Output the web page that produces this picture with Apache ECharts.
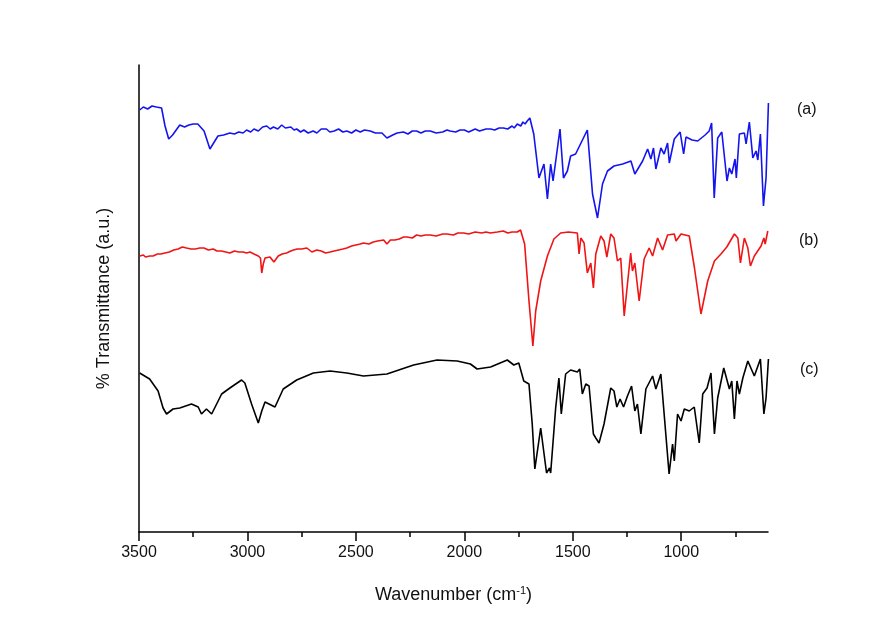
<!DOCTYPE html>
<html>
<head>
<meta charset="utf-8">
<script src="https://cdn.jsdelivr.net/npm/echarts@6/dist/echarts.min.js"></script>
<style>html,body{margin:0;padding:0;background:#fff;}#c{width:878px;height:625px;}</style>
</head>
<body>
<div id="c"></div>
<script>
// Wavenumber tick labels
const majorTicks = [3500, 3000, 2500, 2000, 1500, 1000];
const minorTicks = [3250, 2750, 2250, 1750, 1250, 750];
const curveLabels = ['(a)', '(b)', '(c)'];

// (a) blue spectrum: wavenumber (cm-1) and transmittance (a.u.)
const aWn = [3497,3480,3460,3440,3420,3396,3380,3363,3345,3312,3290,3270,3250,3229,3200,3173,3136,3110,3081,3060,3040,3020,3004,2985,2970,2950,2930,2911,2895,2880,2860,2842,2825,2800,2785,2773,2755,2740,2720,2697,2680,2660,2636,2620,2600,2580,2560,2542,2520,2500,2480,2460,2434,2410,2380,2357,2330,2310,2281,2260,2240,2220,2200,2180,2157,2130,2100,2080,2066,2040,2020,2000,1980,1950,1930,1900,1879,1860,1840,1820,1800,1780,1770,1756,1740,1730,1720,1710,1698,
  1680,1656,1633,1617,1602,1591,1559,1543,1525,1510,1487,1460,1433,1409,1386,1363,1340,1310,1270,1232,1214,1178,1155,1140,1128,1117,1094,1079,1063,1055,1032,1005,989,978,950,924,890,871,860,848,832,813,789,778,767,752,746,732,709,701,686,670,655,647,635,621,609,598];
const aT = [422,425,423,426,425,424,406,393,397,407,405,407,408,408,401,383,396,397,399,398,400,399,402,400,403,401,405,406,403,405,403,407,404,405,402,403,400,402,399,401,399,403,403,400,401,403,400,401,399,402,400,402,401,399,399,394,397,399,400,398,401,401,399,401,401,399,400,402,401,400,402,402,400,403,401,403,403,402,404,404,403,406,404,408,406,410,408,411,414,
  398,354,368,333,368,351,403,354,361,376,378,390,402,338,314,348,361,366,368,371,358,371,383,373,384,363,384,378,389,369,393,400,378,395,392,391,397,401,409,334,394,400,351,364,358,373,354,398,399,388,410,374,381,372,398,326,354,429];

// (b) red spectrum
const bWn = [3496,3480,3470,3450,3435,3415,3400,3380,3360,3340,3320,3300,3281,3260,3240,3220,3200,3180,3158,3140,3120,3100,3081,3060,3040,3020,3004,2988,2970,2950,2940,2934,2927,2919,2896,2878,2858,2840,2820,2800,2788,2770,2750,2726,2703,2680,2660,2640,2619,2600,2580,2560,2542,2520,2500,2480,2465,2440,2420,2400,2372,2357,2341,2320,2300,2280,2264,2240,2220,2200,2180,2157,2130,2100,2080,2050,2030,2003,1980,1950,1920,1900,1880,1848,1820,1800,1780,1756,1741,1732,1722,
  1702,1684,1671,1648,1617,1587,1556,1520,1479,1471,1463,1448,1433,1417,1405,1394,1371,1356,1343,1325,1310,1294,1279,1263,1248,1233,1225,1214,1194,1171,1148,1132,1109,1086,1063,1032,1024,1001,963,939,909,878,847,817,790,755,739,727,709,693,681,663,632,619,613,601];
const bT = [276,277,275,276,276,278,278,279,280,282,283,285,284,283,283,284,284,282,283,281,281,280,279,281,280,280,279,280,278,276,274,259,268,274,275,270,276,278,279,281,282,283,283,284,280,282,281,279,280,281,282,283,284,286,287,288,289,288,290,291,292,288,292,292,293,295,295,294,297,296,297,297,296,298,298,297,299,299,298,300,299,300,299,300,301,299,300,300,302,300,288,
  231,186,221,251,276,293,299,300,299,278,294,289,259,269,244,278,296,291,275,298,294,271,274,216,248,279,261,269,231,273,284,276,294,282,297,298,291,298,296,264,218,251,271,278,285,298,294,269,294,284,266,276,286,294,288,301];

// (c) black spectrum
const cWn = [3497,3451,3412,3389,3373,3343,3312,3258,3227,3212,3189,3165,3119,3081,3027,3012,2981,2950,2934,2919,2873,2835,2773,2696,2619,2542,2465,2357,2234,2126,2033,1972,1941,1879,1802,1772,1749,1726,1702,1687,1675,1648,1621,1607,1602,1579,1564,1553,1533,1510,1479,1468,1456,1440,1425,1405,1394,1379,1356,1325,1310,1297,1282,1266,1248,1229,1214,1202,1186,1163,1132,1117,1094,1056,1040,1032,1017,1001,986,963,940,917,901,881,863,847,832,804,778,767,755,743,732,716,693,663,635,619,609,598];
const cT = [159,153,141,124,118,123,124,128,125,118,123,118,138,144,152,149,128,109,121,130,125,143,152,159,161,159,156,158,167,172,171,168,163,165,172,167,169,151,148,108,63,104,59,64,59,124,154,118,158,162,160,163,138,148,146,98,94,89,108,144,141,125,133,125,136,146,121,128,98,143,156,143,158,58,88,71,118,111,123,121,125,89,138,144,159,98,134,164,143,151,113,151,138,154,171,156,173,118,134,173];

const zip = (x, y) => x.map((v, i) => [v, y[i]]);
const FONT = 'Liberation Sans, Arial, sans-serif';

const chart = echarts.init(document.getElementById('c'), null, {renderer: 'canvas'});
const baseX = {
  type: 'value', inverse: true, min: 600, max: 3500,
  splitLine: {show: false}
};
chart.setOption({
  animation: false,
  backgroundColor: '#fff',
  grid: {left: 139, right: 110, top: 65, bottom: 93},
  xAxis: [
    Object.assign({}, baseX, {
      position: 'bottom',
      name: 'Wavenumber (cm{sup|-1})',
      nameLocation: 'middle',
      nameGap: 53,
      nameTextStyle: {fontFamily: FONT, fontSize: 18, color: '#111',
        rich: {sup: {fontFamily: FONT, fontSize: 11, color: '#111', verticalAlign: 'top', padding: [0, 0, 10, 0]}}},
      axisLine: {show: true, lineStyle: {color: '#000', width: 1.5}},
      axisTick: {show: true, inside: false, length: 9, lineStyle: {color: '#000', width: 1.5}, customValues: majorTicks},
      axisLabel: {show: true, margin: 13, fontFamily: FONT, fontSize: 16, color: '#111', customValues: majorTicks,
        formatter: v => String(v)}
    }),
    Object.assign({}, baseX, {
      position: 'bottom',
      axisLine: {show: false},
      axisTick: {show: true, inside: false, length: 5, lineStyle: {color: '#000', width: 1.5}, customValues: minorTicks},
      axisLabel: {show: false}
    })
  ],
  yAxis: {
    type: 'value', min: 0, max: 467,
    name: '% Transmittance (a.u.)',
    nameLocation: 'middle', nameGap: 26, nameRotate: 90,
    nameTextStyle: {fontFamily: FONT, fontSize: 18, color: '#111'},
    axisLine: {show: true, lineStyle: {color: '#000', width: 1.5}},
    axisTick: {show: false}, axisLabel: {show: false}, splitLine: {show: false}
  },
  graphic: [
    {type: 'text', left: 797, top: 102, style: {text: curveLabels[0], font: '16px ' + FONT, fill: '#111'}},
    {type: 'text', left: 799, top: 233, style: {text: curveLabels[1], font: '16px ' + FONT, fill: '#111'}},
    {type: 'text', left: 800, top: 362, style: {text: curveLabels[2], font: '16px ' + FONT, fill: '#111'}}
  ],
  series: [
    {type: 'line', name: '(a)', data: zip(aWn, aT), showSymbol: false, lineStyle: {color: '#1414f0', width: 1.6}},
    {type: 'line', name: '(b)', data: zip(bWn, bT), showSymbol: false, lineStyle: {color: '#f01414', width: 1.6}},
    {type: 'line', name: '(c)', data: zip(cWn, cT), showSymbol: false, lineStyle: {color: '#000', width: 1.6}}
  ]
});
</script>
</body>
</html>
